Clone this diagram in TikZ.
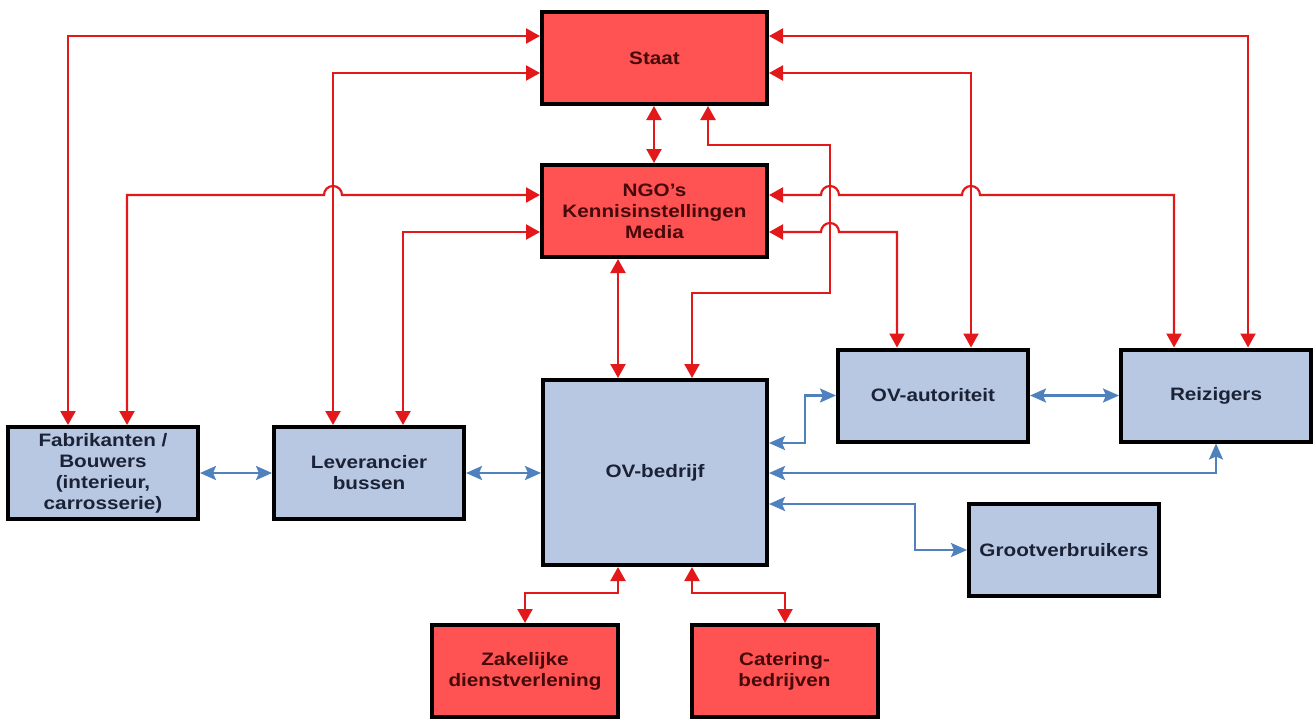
\documentclass[tikz,border=0pt]{standalone}
\usepackage{fontspec}
\setmainfont{Liberation Sans}[FakeStretch=1.15]
\usetikzlibrary{arrows.meta}

\definecolor{boxred}{RGB}{255,82,82}
\definecolor{boxblue}{RGB}{184,200,226}
\definecolor{linkred}{RGB}{226,24,26}
\definecolor{linkblue}{RGB}{79,129,189}
\definecolor{txtblue}{RGB}{28,34,54}
\definecolor{txtred}{RGB}{70,10,10}

\tikzset{
  box/.style={draw=black,line width=2pt,align=center,inner sep=2pt,
    minimum width=95pt,minimum height=46pt,
    font=\bfseries\fontsize{9}{10.5}\selectfont},
  redbox/.style={box,fill=boxred,text=txtred},
  bluebox/.style={box,fill=boxblue,text=txtblue},
  redlink/.style={draw=linkred,line width=1.1pt,
    {Triangle[length=7pt,width=7.5pt]}-{Triangle[length=7pt,width=7.5pt]}},
  bluelink/.style={draw=linkblue,line width=1.2pt,
    {Stealth[length=8pt,width=7pt,inset=1.5pt]}-{Stealth[length=8pt,width=7pt,inset=1.5pt]}}
}

\begin{document}
\begin{tikzpicture}[x=0.5pt,y=-0.5pt]
\useasboundingbox (0,0) rectangle (1315,718);
% actors: red = society, blue = the bus chain
\node[redbox,minimum width=112.5pt] (staat) at (654.5,58) {Staat};
\node[redbox,minimum width=112.5pt] (ngo) at (654.5,211) {NGO's\\Kennisinstellingen\\Media};
\node[bluebox] (fabr) at (103,473) {Fabrikanten /\\Bouwers\\(interieur,\\carrosserie)};
\node[bluebox] (lever) at (369,473) {Leverancier\\bussen};
\node[bluebox,minimum width=112pt,minimum height=92.5pt] (ovbedr) at (655,472.5) {OV-bedrijf};
\node[bluebox] (ovaut) at (933,395.5) {OV-autoriteit};
\node[bluebox] (reiz) at (1216,395.5) {Reizigers};
\node[bluebox] (groot) at (1064,550) {Grootverbruikers};
\node[redbox,minimum width=93pt] (zak) at (525,671) {Zakelijke\\dienstverlening};
\node[redbox,minimum width=93pt] (cat) at (784.5,671) {Catering-\\bedrijven};

% left side
\draw[redlink] (staat.west |- 0,36) -| (fabr.north -| 68,0);
\draw[redlink] (staat.west |- 0,73) -| (lever.north -| 333,0);
\draw[redlink] (fabr.north -| 127,0) |- (324,195)
  arc[start angle=180,end angle=0,radius=4.5pt] -- (ngo.west |- 0,195);
\draw[redlink] (ngo.west |- 0,232) -| (lever.north -| 403,0);

% right side
\draw[redlink] (staat.east |- 0,36) -| (reiz.north -| 1248,0);
\draw[redlink] (staat.east |- 0,73) -| (ovaut.north -| 971,0);
\draw[redlink] (ngo.east |- 0,195) -- (821,195)
  arc[start angle=180,end angle=0,radius=4.5pt] -- (962,195)
  arc[start angle=180,end angle=0,radius=4.5pt] -| (reiz.north -| 1174,0);
\draw[redlink] (ngo.east |- 0,232) -- (821,232)
  arc[start angle=180,end angle=0,radius=4.5pt] -| (ovaut.north -| 897,0);

% centre column
\draw[redlink] (staat.south -| 654,0) -- (ngo.north -| 654,0);
\draw[redlink] (staat.south -| 708,0) |- (830,145) |- (692,293) -- (ovbedr.north -| 692,0);
\draw[redlink] (ngo.south -| 618,0) -- (ovbedr.north -| 618,0);
\draw[redlink] (ovbedr.south -| 618,0) |- (525,593) -- (zak.north);
\draw[redlink] (ovbedr.south -| 692,0) |- (785,593) -- (cat.north -| 785,0);

% blue chain
\draw[bluelink] (fabr.east) -- (lever.west);
\draw[bluelink] (lever.east) -- (ovbedr.west |- lever.east);
\draw[bluelink] (ovbedr.east |- 0,443) -| (ovaut.west -| 805,0) -- (ovaut.west);
\draw[bluelink] (ovaut.east) -- (reiz.west);
\draw[bluelink] (ovbedr.east |- 0,473) -| (reiz.south);
\draw[bluelink] (ovbedr.east |- 0,504) -| (groot.west -| 915,0) -- (groot.west);
\end{tikzpicture}
\end{document}
